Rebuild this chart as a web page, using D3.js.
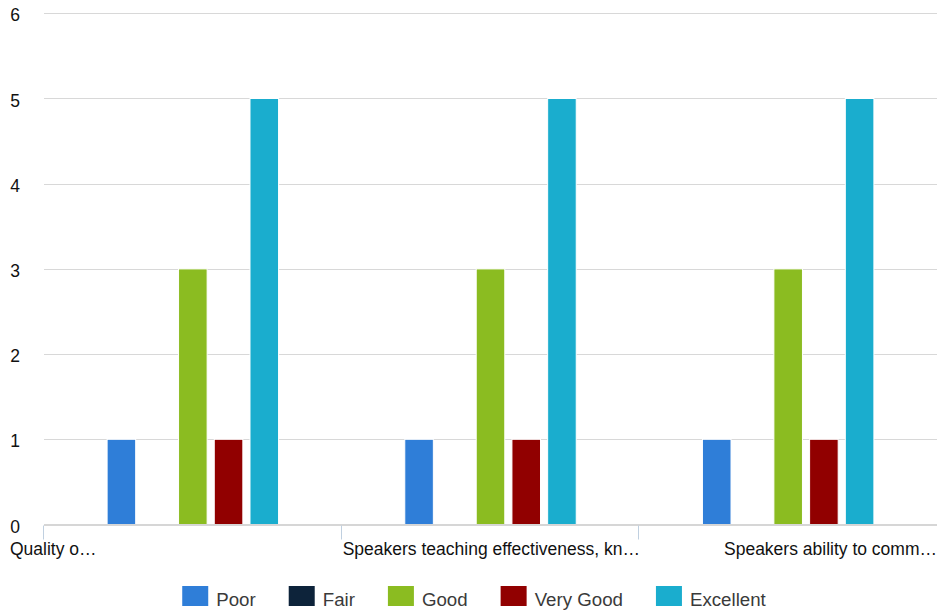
<!DOCTYPE html>
<html><head><meta charset="utf-8">
<script src="https://cdn.jsdelivr.net/npm/d3@7"></script>
<style>
html,body{margin:0;padding:0;background:#fff;}
svg{display:block;font-family:"Liberation Sans",Arial,Helvetica,sans-serif;}
</style></head>
<body><svg id="chart" width="937" height="612"></svg>
<script>
const categories = ["Quality o\u2026", "Speakers teaching effectiveness, kn\u2026", "Speakers ability to comm\u2026"];
const seriesNames = ["Poor", "Fair", "Good", "Very Good", "Excellent"];
const seriesColors = ["#2f7ed8", "#0d233a", "#8bbc21", "#910000", "#1aadce"];
const poor = [1, 1, 1];
const fair = [0, 0, 0];
const good = [3, 3, 3];
const veryGood = [1, 1, 1];
const excellent = [5, 5, 5];
const yTicks = [0, 1, 2, 3, 4, 5, 6];

const seriesValues = [poor, fair, good, veryGood, excellent];

const svg = d3.select("#chart");
const plotLeft = 44, plotRight = 937, plotTop = 13.3, plotBottom = 524.5;

const x0 = d3.scaleBand().domain(categories).range([plotLeft, plotRight]).padding(0);
const bw = x0.bandwidth();
const x1 = d3.scaleBand().domain(seriesNames).range([0.2 * bw, 0.8 * bw]).paddingInner(0.2).paddingOuter(0.1);
const y = d3.scaleLinear().domain([0, 6]).range([plotBottom, plotTop]);

// gridlines
const grid = svg.append("g");
grid.selectAll("line").data(yTicks.filter(d => d > 0)).join("line")
  .attr("x1", plotLeft).attr("x2", plotRight)
  .attr("y1", d => Math.round(y(d)) + 0.5).attr("y2", d => Math.round(y(d)) + 0.5)
  .attr("stroke", "#d8d8d8").attr("stroke-width", 1);

// y labels
svg.append("g").selectAll("text").data(yTicks).join("text")
  .attr("x", 20).attr("y", d => y(d) + 8)
  .attr("text-anchor", "end")
  .attr("font-size", "17.5px").attr("fill", "#111")
  .text(d => d);

// bars
const groups = svg.append("g").selectAll("g").data(categories).join("g")
  .attr("transform", d => `translate(${x0(d)},0)`);
groups.selectAll("rect").data((c, ci) => seriesNames.map((s, si) => ({s, si, v: seriesValues[si][ci]})))
  .join("rect")
  .attr("x", d => x1(d.s))
  .attr("width", x1.bandwidth())
  .attr("y", d => y(d.v))
  .attr("height", d => y(0) - y(d.v))
  .attr("fill", d => seriesColors[d.si])
  .attr("stroke", d => d.v > 0 ? "#fff" : "none")
  .attr("stroke-width", 1);

// x axis line
svg.append("line").attr("x1", plotLeft).attr("x2", plotRight)
  .attr("y1", plotBottom + 0.5).attr("y2", plotBottom + 0.5)
  .attr("stroke", "#c8c8c8").attr("stroke-width", 1.5);

// category ticks
svg.append("g").selectAll("line").data(categories).join("line")
  .attr("x1", d => Math.round(x0(d)) - 0.5).attr("x2", d => Math.round(x0(d)) - 0.5)
  .attr("y1", plotBottom + 1).attr("y2", plotBottom + 15)
  .attr("stroke", "#c0d0e0").attr("stroke-width", 1);

// category labels
const labelPos = [
  {dx: -34, anchor: "start", at: 0},
  {dx: 1, anchor: "start", at: 0},
  {dx: 0, anchor: "end", at: 1}
];
svg.append("g").selectAll("text").data(categories).join("text")
  .attr("x", (d, i) => x0(d) + labelPos[i].at * bw + labelPos[i].dx)
  .attr("y", 555)
  .attr("text-anchor", (d, i) => labelPos[i].anchor)
  .attr("font-size", "17.5px").attr("fill", "#111")
  .text(d => d);

// legend
const legend = svg.append("g");
let cx = 0;
seriesNames.forEach((name, i) => {
  const g = legend.append("g");
  g.append("rect").attr("x", cx).attr("y", 586).attr("width", 26).attr("height", 20)
    .attr("fill", seriesColors[i]);
  const t = g.append("text").attr("x", cx + 34).attr("y", 605.5)
    .attr("font-size", "18.7px").attr("fill", "#3a3a3a").text(name);
  const w = t.node().getComputedTextLength();
  cx += 34 + w + 33;
});
const totalW = cx - 33;
legend.attr("transform", `translate(${474 - totalW / 2},0)`);
</script></body></html>
